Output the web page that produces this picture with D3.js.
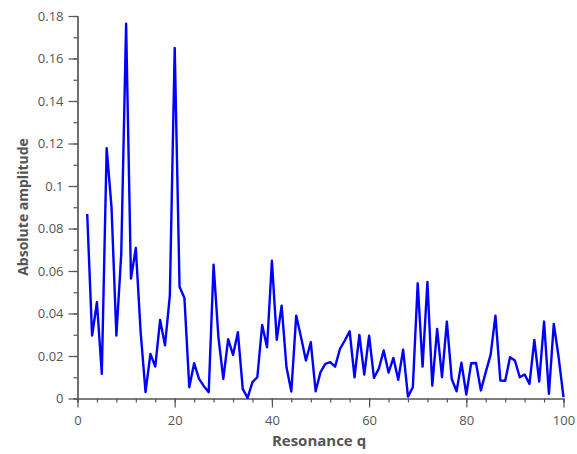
<!DOCTYPE html>
<html><head><meta charset="utf-8">
<script src="https://cdn.jsdelivr.net/npm/d3@7"></script>
<style>body{margin:0;background:#fff}svg{display:block}</style>
</head><body>
<script>
const qStart = 2;
const amplitudes = [
 0.0868,0.0296,0.0453,0.0116,0.1178,0.090,0.0296,0.068,0.1764,0.0565,
 0.0708,0.031,0.003,0.021,0.015,0.037,0.025,0.0484,0.165,0.0526,
 0.0473,0.0053,0.0166,0.0092,0.0058,0.003,0.063,0.0288,0.0092,0.0279,
 0.0205,0.0312,0.0045,0.0003,0.0077,0.010,0.0346,0.0241,0.0648,0.0276,
 0.0437,0.0147,0.0033,0.039,0.0288,0.0179,0.0265,0.0034,0.0124,0.0163,
 0.0171,0.015,0.0233,0.0273,0.0316,0.010,0.0299,0.0113,0.0296,0.0097,
 0.014,0.0226,0.0122,0.0191,0.0088,0.023,0.0009,0.0053,0.0542,0.015,
 0.0548,0.006,0.0327,0.010,0.0362,0.0092,0.0034,0.0169,0.0019,0.0166,
 0.0167,0.0038,0.0124,0.0205,0.039,0.0085,0.0083,0.0194,0.0179,0.010,
 0.0113,0.0069,0.0276,0.008,0.0362,0.0022,0.0351,0.0194,0.0006
];
const xMajorTicks = [0,20,40,60,80,100];
const yMajorTicks = [0,0.02,0.04,0.06,0.08,0.1,0.12,0.14,0.16,0.18];
const xLabel = "Resonance q";
const yLabel = "Absolute amplitude";

const data = amplitudes.map((v,i)=>({q:qStart+i, v}));
const W=577,H=454;
const mLeft=77.5, mRight=563.5, mTop=16, mBottom=398.5;
const font = "'Open Sans', sans-serif";
const grey = "#555";

const svg = d3.select("body").append("svg").attr("width",W).attr("height",H);
const x = d3.scaleLinear().domain([0,100]).range([mLeft,mRight]);
const y = d3.scaleLinear().domain([0,0.18]).range([mBottom,mTop]);

function styleAxis(g){
  g.selectAll("path,line").attr("stroke",grey).attr("stroke-width",1.2);
  g.selectAll("text").attr("fill",grey).style("font-family",font).style("font-size","13px");
}
const xMinor = d3.range(0,101,4);
const yMinor = d3.range(0,19).map(d=>d/100);
svg.append("g").attr("transform",`translate(0,${mBottom})`)
  .call(d3.axisBottom(x).tickValues(xMinor).tickSize(4).tickFormat("")).call(styleAxis);
svg.append("g").attr("transform",`translate(${mLeft},0)`)
  .call(d3.axisLeft(y).tickValues(yMinor).tickSize(4).tickFormat("")).call(styleAxis);
const gx = svg.append("g").attr("transform",`translate(0,${mBottom})`)
  .call(d3.axisBottom(x).tickValues(xMajorTicks).tickSize(9).tickSizeOuter(0).tickPadding(8).tickFormat(d3.format("d")));
styleAxis(gx);
const gy = svg.append("g").attr("transform",`translate(${mLeft},0)`)
  .call(d3.axisLeft(y).tickValues(yMajorTicks).tickSize(9).tickSizeOuter(0).tickPadding(5).tickFormat(d=>String(+d.toFixed(2))));
styleAxis(gy);

svg.append("path").datum(data)
  .attr("fill","none").attr("stroke","#0000ff").attr("stroke-width",2.4)
  .attr("stroke-linejoin","round")
  .attr("d", d3.line().x(d=>x(d.q)).y(d=>y(d.v)));

svg.append("text").attr("x",319).attr("y",446).attr("text-anchor","middle")
  .attr("fill",grey).style("font-family",font).style("font-size","15px").style("font-weight","bold").text(xLabel);
svg.append("text").attr("transform",`translate(28,207) rotate(-90)`).attr("text-anchor","middle")
  .attr("fill",grey).style("font-family",font).style("font-size","14px").style("font-weight","bold").text(yLabel);
</script>
</body></html>
